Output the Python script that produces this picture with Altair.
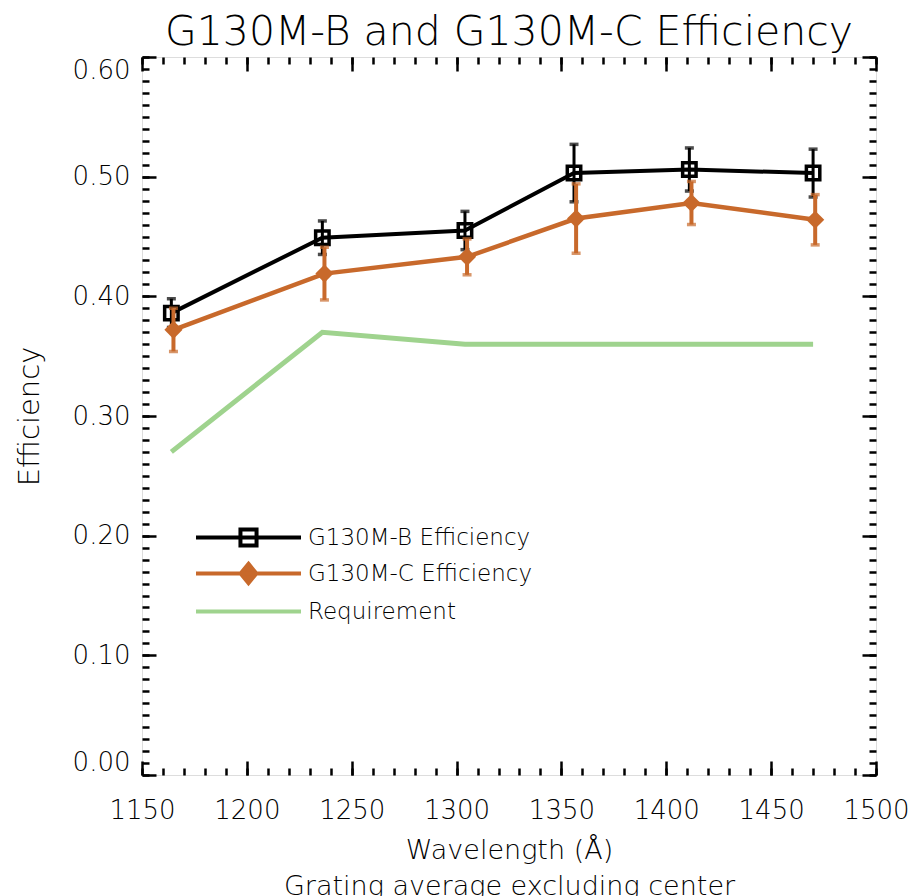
import altair as alt
import pandas as pd

# Efficiency measurements (central wavelength in Angstrom)
wave_b = [1164, 1236, 1304, 1356, 1411, 1470]
eff_b = [0.386, 0.449, 0.455, 0.503, 0.506, 0.503]
err_b = [0.012, 0.014, 0.016, 0.024, 0.018, 0.020]

wave_c = [1165, 1237, 1305, 1357, 1412, 1471]
eff_c = [0.372, 0.419, 0.433, 0.465, 0.478, 0.464]
err_c = [0.018, 0.022, 0.015, 0.029, 0.018, 0.021]

wave_req = [1164, 1236, 1304, 1470]
eff_req = [0.27, 0.37, 0.36, 0.36]

series_names = ["G130M-B Efficiency", "G130M-C Efficiency", "Requirement"]

x_major = [1150, 1200, 1250, 1300, 1350, 1400, 1450, 1500]
y_major = [0.0, 0.1, 0.2, 0.3, 0.4, 0.5, 0.6]
x_minor = list(range(1150, 1501, 10))
y_minor = [round(i * 0.01, 2) for i in range(61)]

FONT = "DejaVu Sans"
WEIGHT = 200
BLACK = "#000000"
ORANGE = "#C8692B"
GREEN = "#9FD38E"

W, H = 734, 718


def table(wave, eff, err=None):
    d = pd.DataFrame({"wave": wave, "eff": eff})
    if err is not None:
        d["lo"] = [e - s for e, s in zip(eff, err)]
        d["hi"] = [e + s for e, s in zip(eff, err)]
    return d


df_b = table(wave_b, eff_b, err_b)
df_c = table(wave_c, eff_c, err_c)
df_req = table(wave_req, eff_req)

xs = alt.Scale(domain=[1150, 1500], nice=False, zero=False)
ys = alt.Scale(domain=[0, 0.6], nice=False, zero=False)


def X(field="wave", axis=None):
    if axis is None:
        return alt.X(f"{field}:Q", scale=xs, axis=None)
    return alt.X(f"{field}:Q", scale=xs, axis=axis)


def Y(field="eff", axis=None):
    if axis is None:
        return alt.Y(f"{field}:Q", scale=ys, axis=None)
    return alt.Y(f"{field}:Q", scale=ys, axis=axis)


def series_layers(df, color, rule_w, line_w, point_mark):
    bars = alt.Chart(df).mark_rule(color=color, strokeWidth=rule_w).encode(
        x=X(), y=Y("lo"), y2="hi"
    )
    cap_lo = alt.Chart(df).mark_tick(
        color=color, orient="horizontal", size=9, thickness=3.5
    ).encode(x=X(), y=Y("lo"))
    cap_hi = alt.Chart(df).mark_tick(
        color=color, orient="horizontal", size=9, thickness=3.5
    ).encode(x=X(), y=Y("hi"))
    line = alt.Chart(df).mark_line(color=color, strokeWidth=line_w).encode(x=X(), y=Y())
    pts = alt.Chart(df).mark_point(**point_mark).encode(x=X(), y=Y())
    return [bars, cap_lo, cap_hi, line, pts]


# Requirement curve, which also carries the labelled axes
label_x_axis = alt.Axis(
    orient="bottom", values=x_major, format="d", ticks=False, tickSize=0,
    domain=False, grid=False, labelFlush=False, labelOverlap=False,
    labelPadding=22, labelFont=FONT, labelFontWeight=WEIGHT, labelFontSize=26,
    labelColor=BLACK,
    title=["Wavelength (Å)", "Grating average excluding center"],
    titleFont=FONT, titleFontWeight=WEIGHT, titleFontSize=27, titleColor=BLACK,
    titleBaseline="alphabetic", titleAlign="center", titleX=W / 2, titleY=83,
    titleLineHeight=36,
)
label_y_axis = alt.Axis(
    orient="left", values=y_major, format=".2f", ticks=False, tickSize=0,
    domain=False, grid=False, labelFlush=True, labelOverlap=False,
    labelPadding=12, labelFont=FONT, labelFontWeight=WEIGHT, labelFontSize=26,
    labelColor=BLACK,
    title="Efficiency", titleFont=FONT, titleFontWeight=WEIGHT, titleFontSize=29,
    titleColor=BLACK, titleBaseline="alphabetic", titleAlign="center",
    titleAngle=270, titleX=-104, titleY=H / 2,
)
req = alt.Chart(df_req).mark_line(color=GREEN, strokeWidth=5).encode(
    x=X(axis=label_x_axis), y=Y(axis=label_y_axis)
)

layers = [req]
layers += series_layers(
    df_b, BLACK, 3, 4,
    dict(shape="square", filled=False, size=180, strokeWidth=3.5, color=BLACK, opacity=1),
)
layers += series_layers(
    df_c, ORANGE, 4, 4.5,
    dict(shape="diamond", filled=True, size=330, color=ORANGE, opacity=1),
)

# Inward-pointing major/minor ticks on all four sides
def tick_axis(orient, values, size):
    return alt.Axis(
        orient=orient, values=values, ticks=True, tickSize=size, offset=-size,
        tickWidth=2.5, tickColor=BLACK, labels=False, domain=False, grid=False,
        title=None,
    )


for orient_x, orient_y, vx, vy, size in [
    ("bottom", "left", x_major, y_major, 14),
    ("bottom", "left", x_minor, y_minor, 7),
    ("top", "right", x_major, y_major, 14),
    ("top", "right", x_minor, y_minor, 7),
]:
    layers.append(
        alt.Chart(df_req).mark_point(opacity=0).encode(
            x=X(axis=tick_axis(orient_x, vx, size)),
            y=Y(axis=tick_axis(orient_y, vy, size)),
        )
    )

# Legend: line sample with the series marker at its centre
legend_paths = [
    "M-3,0H3M-0.46,-0.46H0.46V0.46H-0.46Z",
    "M-3,0H3M0,-0.55L0.45,0L0,0.55L-0.45,0Z",
    "M-3,0H3",
]
legend_strokes = [BLACK, ORANGE, GREEN]
legend_fills = ["transparent", ORANGE, "transparent"]

legend = alt.Legend(
    orient="none", legendX=87, legendY=461, title=None, padding=0,
    symbolSize=1225, symbolStrokeWidth=4, symbolOpacity=1, rowPadding=0,
    labelFont=FONT, labelFontWeight=WEIGHT, labelFontSize=23, labelColor=BLACK,
    labelOffset=40, labelLimit=400,
)
legend_df = pd.DataFrame({"series": series_names})
layers.append(
    alt.Chart(legend_df).mark_point(opacity=0).encode(
        x=alt.value(0), y=alt.value(0),
        shape=alt.Shape("series:N", scale=alt.Scale(domain=series_names, range=legend_paths), legend=legend),
        stroke=alt.Stroke("series:N", scale=alt.Scale(domain=series_names, range=legend_strokes), legend=legend),
        fill=alt.Fill("series:N", scale=alt.Scale(domain=series_names, range=legend_fills), legend=legend),
    )
)

chart = (
    alt.layer(*layers)
    .resolve_axis(x="independent", y="independent")
    .properties(
        width=W, height=H,
        padding={"left": 142, "top": 57, "right": 43, "bottom": 121},
        autosize=alt.AutoSizeParams(type="none"),
        title=alt.TitleParams(
            "G130M-B and G130M-C Efficiency", font=FONT, fontWeight=WEIGHT,
            fontSize=41, color=BLACK, anchor="middle", frame="group",
            baseline="alphabetic", offset=10, dy=41,
        ),
    )
    .configure_view(stroke=BLACK, strokeWidth=3)
    .configure_title(font=FONT, fontWeight=WEIGHT)
    .configure(background="white")
)

chart.save("out.html", embed_options={"renderer": "svg", "actions": False})
